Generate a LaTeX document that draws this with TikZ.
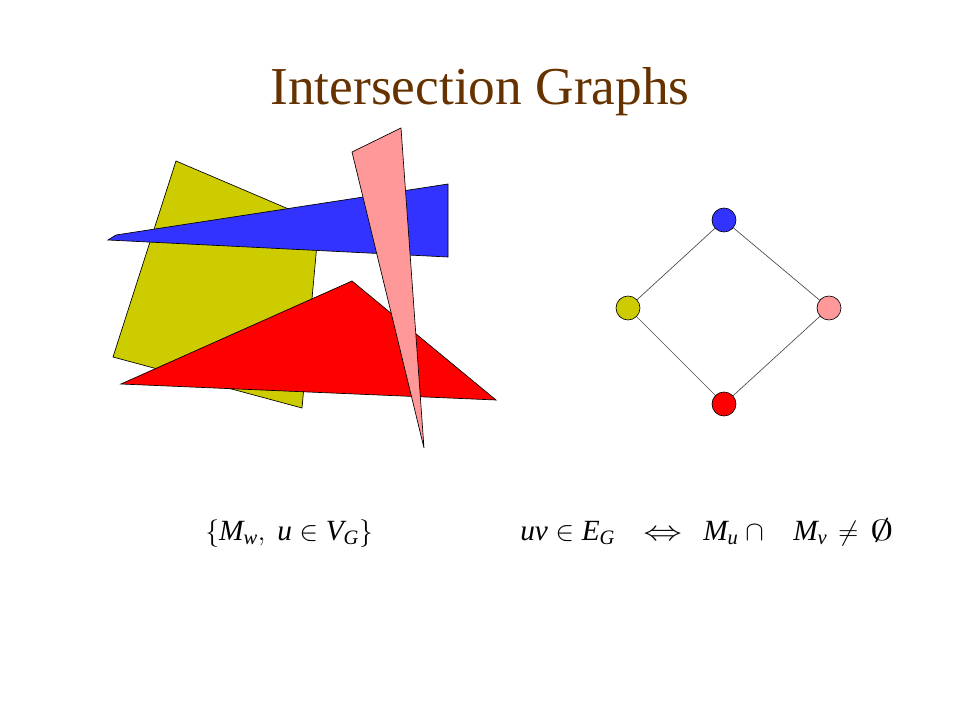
\documentclass[tikz,border=0pt]{standalone}
\usepackage{amsmath}
\usepackage{fontspec}
\setmainfont{Liberation Serif}
\newcommand\vi[1]{\textit{#1}}
\definecolor{ttl}{HTML}{663300}
\definecolor{cyel}{HTML}{CCCC00}
\definecolor{cblu}{HTML}{3333FF}
\definecolor{cred}{HTML}{FF0000}
\definecolor{cpnk}{HTML}{FF9999}
\tikzset{
  polyshape/.style={draw=black, line width=0.5pt, line join=miter},
  vtx/.style={circle, draw=black, line width=0.5pt, minimum size=18pt, inner sep=0pt},
  edge/.style={draw=black!70, line width=0.5pt},
  frm/.style={anchor=base west, inner sep=0pt, font=\fontsize{22}{26}\selectfont}
}
\begin{document}
\begin{tikzpicture}[x=0.75pt,y=-0.75pt]
\useasboundingbox[fill=white] (0,0) rectangle (960,720);
\node[anchor=base, text=ttl, font=\fontsize{40}{46}\selectfont] (title) at (480,105) {Intersection Graphs};
% shapes
\filldraw[fill=cyel, polyshape] (176,161) -- (319,222) -- (302,408) -- (113,357) -- cycle;
\filldraw[fill=cblu, polyshape] (108,240) -- (116,235) -- (448,184) -- (448,257) -- cycle;
\filldraw[fill=cred, polyshape] (352,281) -- (496,400) -- (121,384) -- cycle;
\filldraw[fill=cpnk, polyshape] (401,128) -- (424,448) -- (352,152) -- cycle;
% graph
\node[vtx, fill=cblu] (b) at (724,220) {};
\node[vtx, fill=cyel] (y) at (628,308) {};
\node[vtx, fill=cpnk] (p) at (829,308) {};
\node[vtx, fill=cred] (r) at (724,404) {};
\draw[edge] (b) -- (y);
\draw[edge] (b) -- (p);
\draw[edge] (y) -- (r);
\draw[edge] (p) -- (r);
% formulas
\node[frm] (f1) at (205,540) {$\{\vi{M}_{\vi{w}},\ \vi{u} \in \vi{V}_{\vi{G}}\}$};
\node[frm] (f2) at (520,540) {$\vi{uv} \in \vi{E}_{\vi{G}}$};
\node[frm] (f3) at (643,540) {\scalebox{1.4}[1]{$\Leftrightarrow$}};
\node[frm] (f4) at (703,540) {$\vi{M}_{\vi{u}}$};
\node[frm] (f5) at (745,540) {$\cap$};
\node[frm] (f6) at (793,540) {$\vi{M}_{\vi{v}}$};
\node[frm] (f7) at (838,540) {$\neq$};
\node[frm] (f8) at (870,540) {\scalebox{1.7}[1.05]{$\emptyset$}};
\end{tikzpicture}
\end{document}
